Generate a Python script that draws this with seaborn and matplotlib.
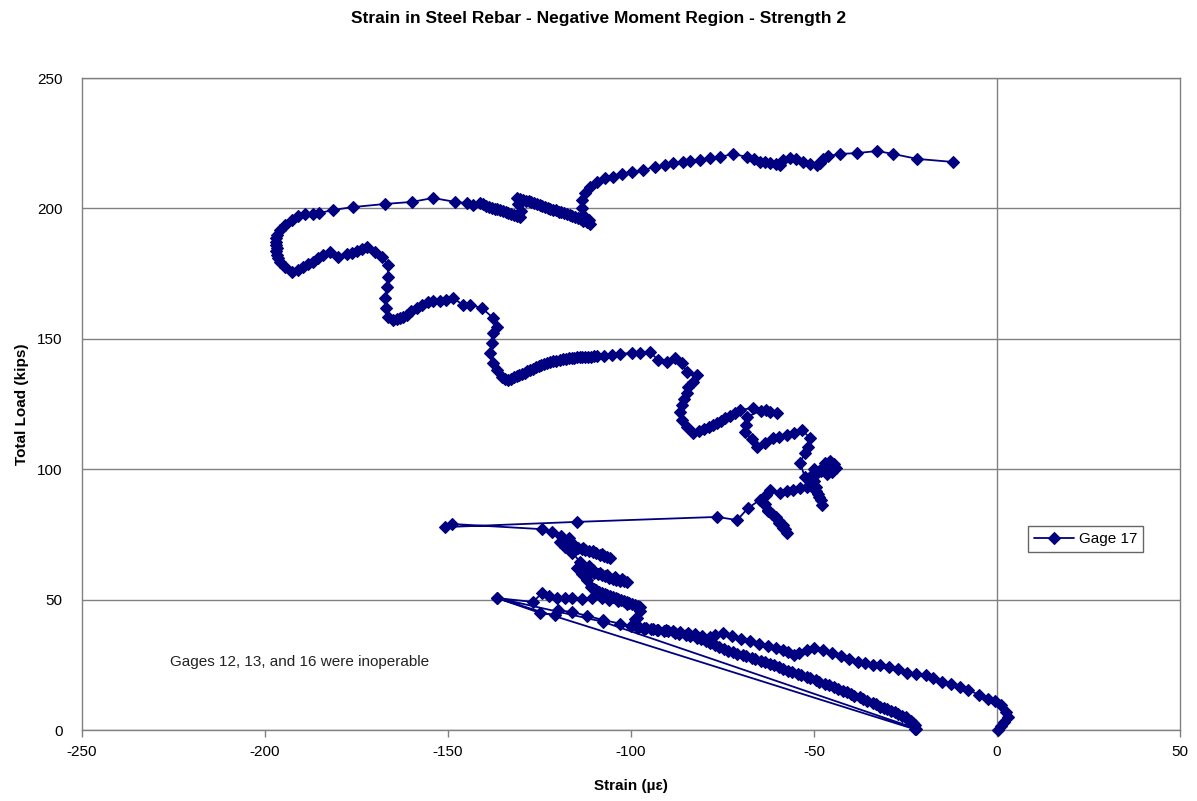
import matplotlib
matplotlib.use("Agg")
import matplotlib.pyplot as plt
import seaborn as sns
import pandas as pd

# Gage 17 readings, (strain in microstrain, total load in kips), in recording order
first_loading = [
    (0.3, 0.0), (1.0, 1.5), (2.0, 3.0), (3.0, 4.8), (2.5, 7.0), (1.0, 9.5), (-0.5, 11.0),
    (-2.5, 12.0), (-5.0, 13.5), (-8.0, 15.5), (-10.0, 16.5), (-12.5, 17.5), (-15.0, 18.5),
    (-17.5, 19.8), (-19.5, 21.0), (-22.0, 21.5), (-24.5, 22.0), (-27.0, 23.3), (-29.5, 24.2),
    (-32.0, 24.8), (-34.0, 25.0), (-36.0, 25.5), (-38.0, 26.2), (-40.5, 27.3), (-42.5, 28.5),
    (-45.0, 29.5), (-47.5, 30.5), (-50.0, 31.4), (-52.0, 30.8), (-54.0, 29.5), (-55.5, 28.8),
    (-57.0, 29.8), (-58.5, 30.8), (-60.5, 31.5), (-62.5, 32.2), (-65.0, 33.0), (-67.5, 34.0),
    (-70.0, 35.0), (-72.5, 36.0), (-75.0, 37.2), (-77.0, 36.5), (-78.5, 35.5), (-80.5, 36.2),
    (-82.5, 36.8), (-84.5, 37.2), (-86.5, 37.6), (-88.5, 37.8), (-90.5, 38.2), (-92.5, 38.5),
    (-94.5, 38.7), (-96.5, 38.9), (-98.0, 39.2), (-100.0, 40.0), (-103.0, 40.8), (-107.7, 42.2),
    (-112.0, 43.8), (-116.1, 45.2), (-120.0, 46.0), (-120.8, 44.1), (-124.9, 44.9), (-136.6, 50.6),
]

first_unloading = [(-107.7, 41.5), (-22.0, 0.5)]

first_reloading = [
    (-22.5, 2.0), (-23.5, 3.5), (-25.0, 4.8), (-27.0, 6.0), (-29.0, 7.3), (-31.0, 8.5),
    (-33.0, 9.8), (-35.5, 11.3), (-37.5, 12.5), (-40.0, 13.8), (-42.0, 15.0), (-44.5, 16.5),
    (-47.0, 17.8), (-49.5, 19.2), (-52.0, 20.3), (-54.5, 21.5), (-57.0, 22.8), (-59.5, 24.0),
    (-62.0, 25.3), (-64.5, 26.5), (-67.0, 27.5), (-69.5, 28.6), (-72.0, 29.8), (-74.5, 31.0),
    (-77.0, 32.5), (-79.5, 34.0), (-82.0, 35.3), (-85.0, 36.5), (-88.0, 37.3), (-91.0, 38.0),
    (-94.0, 38.6), (-96.5, 39.0), (-98.4, 39.5), (-98.4, 43.0), (-98.4, 47.0), (-101.0, 48.5),
    (-103.5, 49.3), (-106.0, 50.0), (-108.0, 50.6), (-110.7, 50.6), (-113.4, 50.3),
    (-116.1, 50.6), (-117.9, 50.8), (-120.2, 50.6), (-122.5, 51.5), (-124.3, 52.5),
    (-126.8, 49.1), (-136.6, 50.6),
]

second_unloading = [(-22.5, 0.3)]

second_reloading = [
    (-23.0, 2.8), (-24.5, 4.3), (-26.0, 5.5), (-28.0, 6.8), (-30.0, 8.0), (-32.0, 9.0),
    (-34.0, 10.5), (-36.5, 11.8), (-39.0, 13.2), (-41.0, 14.5), (-43.5, 15.8), (-46.0, 17.2),
    (-48.5, 18.5), (-51.0, 19.8), (-53.5, 21.0), (-56.0, 22.3), (-58.5, 23.5), (-61.0, 24.8),
    (-63.5, 26.0), (-66.0, 27.2), (-68.5, 28.2), (-71.0, 29.3), (-73.5, 30.4), (-76.0, 31.8),
    (-78.5, 33.2), (-81.0, 34.8), (-84.0, 36.0), (-87.0, 37.0), (-90.0, 37.8), (-93.0, 38.3),
    (-96.0, 39.0), (-98.0, 40.0), (-99.0, 42.5), (-97.5, 45.5), (-97.5, 47.2),
]

# small load cycles between 47 and 77 kips
cycles_50_to_80 = [
    (-98.2, 47.6), (-99.0, 48.0), (-99.8, 48.4), (-100.5, 48.8), (-101.2, 49.2), (-102.0, 49.6),
    (-102.8, 50.0), (-103.5, 50.3), (-104.2, 50.6), (-105.0, 51.0), (-105.8, 51.4),
    (-106.5, 51.8), (-107.2, 52.1), (-108.0, 52.5), (-108.8, 53.0), (-109.5, 53.5),
    (-110.2, 54.1), (-111.0, 54.8), (-112.0, 57.5), (-113.5, 60.0), (-114.8, 62.0),
    (-114.0, 61.6), (-113.0, 61.3), (-112.0, 60.9), (-111.0, 60.5), (-110.0, 60.1),
    (-109.0, 59.7), (-108.0, 59.3), (-107.0, 58.9), (-106.0, 58.4), (-105.0, 58.0),
    (-104.0, 57.7), (-103.0, 57.3), (-102.0, 57.0), (-101.0, 56.7), (-102.5, 57.8),
    (-104.5, 58.6), (-106.5, 59.4), (-108.5, 60.3), (-110.4, 61.5), (-111.5, 63.0),
    (-113.9, 64.4), (-116.0, 68.0), (-118.0, 70.0), (-119.4, 72.0), (-118.5, 71.6),
    (-117.5, 71.2), (-116.5, 70.8), (-115.5, 70.3), (-114.5, 69.9), (-113.5, 69.5),
    (-112.5, 69.0), (-111.5, 68.6), (-110.5, 68.1), (-109.5, 67.7), (-108.5, 67.2),
    (-107.5, 66.8), (-106.6, 66.4), (-105.7, 66.0), (-108.0, 67.3), (-110.5, 68.5),
    (-113.0, 69.8), (-115.8, 71.5), (-117.0, 73.6), (-119.0, 74.5), (-121.5, 75.8),
    (-124.3, 77.0), (-148.9, 79.0), (-150.8, 77.8), (-114.8, 79.8), (-76.5, 81.7),
    (-71.0, 80.5), (-68.0, 85.1), (-64.8, 88.2),
]

cycles_75_to_125 = [
    (-63.5, 86.5), (-62.5, 84.5), (-61.5, 83.0), (-60.5, 81.5), (-59.5, 80.0), (-58.5, 78.5),
    (-58.0, 77.0), (-57.4, 75.5), (-58.5, 77.5), (-59.5, 79.5), (-61.0, 82.0), (-62.5, 84.0),
    (-64.0, 87.0), (-63.0, 90.0), (-62.0, 92.0), (-59.3, 90.9), (-57.5, 91.5), (-55.7, 92.0),
    (-53.8, 92.6), (-52.0, 93.2), (-50.5, 94.0), (-49.5, 91.5), (-48.5, 89.3), (-47.8, 86.3),
    (-48.2, 88.0), (-48.8, 90.5), (-49.5, 93.0), (-50.0, 95.5), (-50.8, 97.5), (-49.0, 99.0),
    (-47.5, 100.0), (-46.0, 101.5), (-44.5, 102.0), (-44.0, 100.5), (-45.0, 99.0),
    (-46.5, 98.0), (-48.0, 99.5), (-47.0, 102.5), (-45.5, 103.0), (-47.5, 101.0),
    (-50.0, 100.0), (-52.5, 97.0), (-53.8, 102.4), (-52.5, 106.2), (-51.6, 108.5),
    (-51.1, 112.0), (-53.3, 115.0), (-55.5, 114.0), (-57.4, 113.1), (-59.5, 112.5),
    (-61.2, 112.0), (-63.5, 110.0), (-65.6, 108.5), (-67.0, 111.5), (-68.9, 114.3),
    (-68.5, 117.0), (-68.3, 120.0), (-64.5, 122.5), (-62.0, 122.0), (-60.1, 121.5),
    (-63.0, 122.7), (-66.7, 123.5), (-70.2, 122.7), (-71.5, 121.6), (-73.0, 120.5),
    (-74.2, 119.5), (-75.5, 118.5), (-76.6, 117.7), (-77.6, 116.9), (-78.8, 116.1),
    (-80.0, 115.3), (-81.5, 114.6), (-83.1, 113.9),
]

climb_to_200 = [
    (-84.7, 116.2), (-86.1, 118.9), (-86.6, 121.9), (-86.1, 124.6), (-85.5, 127.0),
    (-84.7, 129.2), (-84.4, 131.5), (-83.1, 133.4), (-82.0, 136.1), (-84.7, 137.3),
    (-86.1, 140.7), (-88.0, 142.6), (-90.2, 141.1), (-92.6, 141.9), (-94.8, 144.9),
    (-97.5, 144.7), (-99.7, 144.6), (-103.0, 144.2), (-105.2, 143.8), (-107.5, 143.5),
    (-109.3, 143.4), (-110.2, 143.3), (-111.0, 143.2), (-111.8, 143.1), (-112.6, 143.0),
    (-113.3, 143.0), (-114.0, 143.0), (-114.8, 142.9), (-115.5, 142.7), (-116.2, 142.6),
    (-117.0, 142.5), (-117.8, 142.4), (-118.6, 142.3), (-119.5, 142.0), (-120.5, 141.6),
    (-121.2, 141.3), (-122.0, 141.0), (-123.0, 140.7), (-123.8, 140.4), (-124.5, 140.0),
    (-125.2, 139.5), (-126.0, 139.0), (-126.8, 138.5), (-127.6, 138.0), (-128.3, 137.5),
    (-129.0, 137.0), (-129.8, 136.5), (-130.5, 136.0), (-131.2, 135.6), (-132.0, 135.2),
    (-132.8, 134.7), (-133.6, 134.2), (-134.4, 134.6), (-135.2, 135.4), (-136.5, 138.0),
    (-137.7, 140.7), (-138.5, 144.6), (-138.0, 148.4), (-137.7, 152.2), (-136.6, 154.5),
    (-137.7, 158.0), (-140.7, 161.8), (-144.0, 163.0), (-145.9, 163.0), (-148.6, 165.6),
    (-150.5, 165.0), (-152.2, 164.5), (-154.0, 164.5), (-155.5, 164.0), (-157.0, 162.8),
    (-158.5, 161.8), (-160.0, 160.5), (-161.2, 159.1), (-162.2, 158.5), (-163.0, 158.0),
    (-164.0, 157.5), (-165.0, 157.2), (-166.5, 158.5), (-166.9, 161.8), (-167.2, 165.6),
    (-166.7, 169.9), (-166.4, 173.7), (-166.4, 178.3), (-168.0, 181.4), (-169.9, 183.3),
    (-172.1, 185.2), (-173.5, 184.5), (-174.9, 183.7), (-176.2, 183.0), (-177.6, 182.5),
    (-180.0, 181.4), (-182.2, 183.3), (-184.2, 182.1), (-185.5, 180.8), (-186.9, 179.4),
    (-188.2, 178.5), (-189.6, 177.5), (-191.0, 176.5), (-192.6, 175.6), (-194.5, 177.5),
    (-195.9, 179.4), (-196.5, 181.0), (-196.7, 182.1), (-196.9, 183.5), (-196.7, 184.8),
    (-197.0, 186.0), (-197.0, 187.1), (-196.9, 188.5), (-196.7, 189.8), (-195.9, 191.7),
    (-194.5, 193.6), (-192.6, 195.5), (-191.0, 197.0), (-189.0, 197.8), (-187.0, 198.0),
    (-185.2, 198.2), (-181.4, 199.4), (-176.0, 200.5), (-167.2, 201.7), (-159.8, 202.5),
    (-154.1, 204.0), (-148.1, 202.5), (-144.8, 202.0), (-143.2, 201.3),
]

final_stage = [
    (-141.3, 202.0), (-140.4, 201.5), (-139.5, 201.0), (-138.7, 200.6), (-138.0, 200.3),
    (-137.2, 199.9), (-136.5, 199.6), (-135.7, 199.3), (-135.0, 199.0), (-134.2, 198.6),
    (-133.5, 198.3), (-132.7, 197.9), (-132.0, 197.5), (-131.1, 197.1), (-130.3, 196.7),
    (-130.0, 199.0), (-130.8, 201.5), (-131.1, 204.0), (-130.3, 203.7), (-129.5, 203.4),
    (-128.7, 203.0), (-128.0, 202.7), (-127.2, 202.3), (-126.5, 202.0), (-125.7, 201.6),
    (-125.0, 201.3), (-124.2, 201.0), (-123.5, 200.6), (-122.7, 200.2), (-122.0, 199.9),
    (-121.2, 199.5), (-120.5, 199.2), (-119.7, 198.8), (-119.0, 198.5), (-118.2, 198.1),
    (-117.5, 197.7), (-116.7, 197.3), (-116.0, 197.0), (-115.2, 196.6), (-114.5, 196.2),
    (-113.7, 195.8), (-113.0, 195.3), (-112.1, 194.6), (-111.2, 193.9), (-111.5, 195.5),
    (-113.1, 197.5), (-113.4, 200.2), (-113.4, 203.2), (-112.6, 205.9), (-111.2, 208.2),
    (-109.3, 210.1), (-107.1, 211.7), (-104.9, 212.0), (-102.5, 213.2), (-99.7, 214.0),
    (-96.7, 214.7), (-93.4, 215.9), (-90.7, 216.6), (-88.5, 217.4), (-85.8, 217.8),
    (-83.9, 218.2), (-81.1, 218.6), (-78.4, 219.3), (-75.7, 219.7), (-72.1, 220.9),
    (-68.3, 219.7), (-66.5, 218.8), (-64.8, 217.8), (-63.4, 217.6), (-62.0, 217.4),
    (-60.5, 217.0), (-59.3, 216.6), (-58.5, 218.6), (-56.6, 219.3), (-55.0, 218.8),
    (-53.0, 217.8), (-51.0, 217.2), (-49.2, 216.6), (-48.4, 217.4), (-47.5, 219.0),
    (-46.2, 220.0), (-42.9, 220.9), (-38.3, 221.2), (-32.8, 222.0), (-28.4, 220.9),
    (-21.9, 219.0), (-12.0, 217.8),
]

x_ticks = [-250, -200, -150, -100, -50, 0, 50]
y_ticks = [0, 50, 100, 150, 200, 250]

segments = [first_loading, first_unloading, first_reloading, second_unloading,
            second_reloading, cycles_50_to_80, cycles_75_to_125, climb_to_200, final_stage]
readings = [pt for seg in segments for pt in seg]
df = pd.DataFrame(readings, columns=["strain", "load"])

sns.set_style("white")
plt.rcParams["font.family"] = ["Liberation Sans", "DejaVu Sans"]
plt.rcParams["text.color"] = "black"
plt.rcParams["axes.labelcolor"] = "black"
plt.rcParams["xtick.color"] = "black"
plt.rcParams["ytick.color"] = "black"

NAVY = "#000080"
GRID = "#808080"

fig = plt.figure(figsize=(11.97, 8.01), dpi=100)
ax = fig.add_axes([82 / 1197, 71 / 801, 1098 / 1197, 652 / 801])

ax.axvline(0, color=GRID, lw=1.0, zorder=1)
ax.yaxis.grid(True, color=GRID, lw=1.0, zorder=0)
ax.xaxis.grid(False)

sns.lineplot(data=df, x="strain", y="load", sort=False, estimator=None, ax=ax,
             color=NAVY, lw=1.3, marker="D", markersize=6.4,
             markeredgecolor=NAVY, markerfacecolor=NAVY, markeredgewidth=0.8,
             label="Gage 17", zorder=3, clip_on=False)

ax.set_xlim(-250, 50)
ax.set_ylim(0, 250)
ax.set_xticks(x_ticks)
ax.set_yticks(y_ticks)
ax.set_xticklabels([str(v) for v in x_ticks], fontsize=11)
ax.set_yticklabels([str(v) for v in y_ticks], fontsize=11)
ax.tick_params(axis="x", direction="out", length=5, width=1, color=GRID,
               labelcolor="black", pad=6)
ax.tick_params(axis="y", length=0, pad=14, labelcolor="black")
ax.xaxis.set_ticks_position("bottom")

for side in ["left", "right", "top", "bottom"]:
    ax.spines[side].set_color(GRID)
    ax.spines[side].set_linewidth(1.0)
    ax.spines[side].set_visible(True)

ax.set_xlabel("Strain (µε)", fontsize=11, fontweight="bold", labelpad=14, color="black")
ax.set_ylabel("Total Load (kips)", fontsize=11, fontweight="bold", labelpad=6, color="black")

fig.text(0.5, 1 - 18 / 801, "Strain in Steel Rebar - Negative Moment Region - Strength 2",
         ha="center", va="center", fontsize=12.5, fontweight="bold", color="black")
fig.text(170 / 1197, 1 - 662 / 801, "Gages 12, 13, and 16 were inoperable",
         ha="left", va="center", fontsize=11, color="#222222")

leg = ax.legend(loc="center", bbox_to_anchor=(0.914, 0.293), fontsize=11,
                frameon=True, fancybox=False, shadow=False, borderpad=0.4,
                handlelength=2.6, handletextpad=0.3, borderaxespad=0)
leg.get_frame().set_edgecolor("#404040")
leg.get_frame().set_linewidth(1.0)
for t in leg.get_texts():
    t.set_color("black")

fig.savefig("out.png", dpi=100, facecolor="white")
